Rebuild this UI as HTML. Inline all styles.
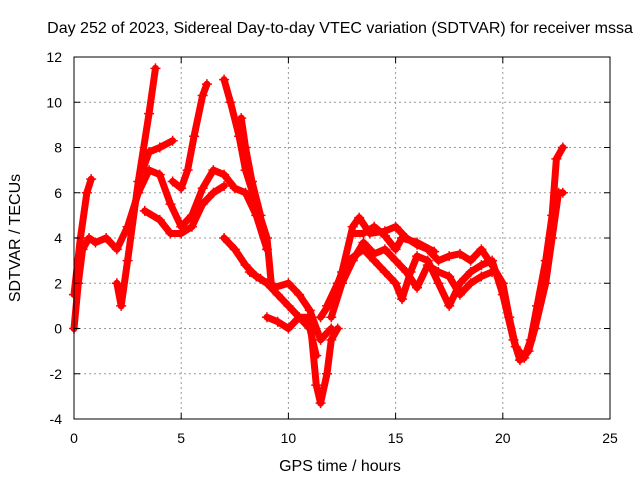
<!DOCTYPE html>
<html><head><meta charset="utf-8"><style>
body{margin:0;background:#fff;}
svg text{font-family:"Liberation Sans",sans-serif;font-size:14px;fill:#000;}
svg text.lbl{font-size:16px;}
</style></head><body>
<svg id="chart" width="640" height="480" xmlns="http://www.w3.org/2000/svg">
<g id="grid"></g>
<g id="series"></g>
<rect x="74" y="57" width="536" height="362" fill="none" stroke="#000" stroke-width="1"/>
<g id="axes"></g>
<text class="lbl" x="340" y="33" text-anchor="middle">Day 252 of 2023, Sidereal Day-to-day VTEC variation (SDTVAR) for receiver mssa</text>
<text class="lbl" x="340" y="471" text-anchor="middle">GPS time / hours</text>
<text class="lbl" transform="translate(20,238) rotate(-90)" text-anchor="middle">SDTVAR / TECUs</text>
</svg>
<script>
const xTicks=[0,5,10,15,20,25];
const yTicks=[-4,-2,0,2,4,6,8,10,12];
const trackA=[[0,0],[0.2,2],[0.4,3.5],[0.7,4],[1,3.8],[1.5,4],[2,3.5],[2.5,4.5],[3,6],[3.5,7],[4,6.8],[4.5,5.5],[5,4.5],[5.5,5],[6,6.2],[6.5,7],[7,6.8],[7.5,6.2],[8,6],[8.5,5],[9,3.5]];
const trackB=[[0,1.5],[0.3,4],[0.6,6],[0.8,6.6]];
const trackC=[[2,2],[2.2,1],[2.5,3],[3,6.5],[3.5,9.5],[3.8,11.5]];
const trackD=[[3.2,7],[3.5,7.8],[4,8],[4.6,8.3]];
const trackE=[[3.3,5.2],[4,4.8],[4.5,4.2],[5,4.2],[5.5,4.5],[6,5.5],[6.5,6],[7,6.3]];
const trackG=[[4.6,6.5],[5,6.2],[5.3,7],[5.6,8.5],[6,10.3],[6.2,10.8]];
const trackH=[[7,11],[7.3,10],[7.7,8.5],[8,7],[8.5,5.5],[9,4],[9.2,2]];
const trackI=[[7.8,9.3],[8,8],[8.3,6.5],[8.7,5]];
const trackJ=[[7,4],[7.5,3.5],[8,2.8],[8.5,2.3],[9,2],[9.5,1.5],[10,1],[10.5,0.5],[11,0],[11.3,-1.2]];
const trackK=[[8.2,2.5],[8.7,2.2],[9.3,1.8],[10,2],[10.5,1.5],[11,0.8],[11.5,-0.5],[12,0]];
const trackL=[[9,0.5],[9.5,0.3],[10,0],[10.5,0.5],[11,0.5],[11.3,-2.5],[11.5,-3.3],[11.8,-2],[12,-0.5],[12.3,0]];
const trackM=[[11.5,0.5],[12,1.2],[12.5,2.5],[13,4.5],[13.3,4.9],[13.8,4.2],[14.5,4.3],[15,4.5],[15.5,4],[16,3.7],[16.5,3.5],[17,3],[17.5,3.2],[18,3.3],[18.5,3],[19,3.5],[19.5,2.8],[20,2],[20.3,0.5],[20.6,-0.8],[21,-1.3],[21.3,-0.5],[21.6,1],[22,3],[22.3,5],[22.5,7.5],[22.8,8]];
const trackN=[[11.8,1],[12.3,2],[12.8,3],[13.5,3.5],[14,3],[14.5,2.5],[15,2],[15.3,1.3],[15.7,2.5],[16,3.2],[16.5,3],[17,2],[17.5,1],[18,2],[18.5,2.5],[19,2.8],[19.5,3],[20,1.5],[20.5,-0.5],[20.8,-1.4],[21.2,-1],[21.5,0],[22,2],[22.3,4],[22.6,6],[22.8,6]];
const trackO=[[12,0.5],[12.5,2],[13,3],[13.5,3.8],[14,3.3],[14.5,3.5],[15,3],[15.5,2.5],[16,1.8],[16.5,2.8],[17,2.5],[17.5,2.3],[18,1.5],[18.5,2],[19,2.3],[19.5,2.5]];
const trackP=[[13,4.2],[13.5,4.2],[14,4.5],[14.5,4.1],[15,3.5],[15.3,4],[16,3.8],[16.8,3.4]];
const tracks=[trackA,trackB,trackC,trackD,trackE,trackG,trackH,trackI,trackJ,trackK,trackL,trackM,trackN,trackO,trackP];
const NS="http://www.w3.org/2000/svg";
const X=v=>74+v*(536/25);
const Y=v=>419-(v+4)*(362/16);
function mk(t,a,p){const e=document.createElementNS(NS,t);for(const k in a)e.setAttribute(k,a[k]);p.appendChild(e);return e;}
const grid=document.getElementById('grid'),axes=document.getElementById('axes'),ser=document.getElementById('series');
xTicks.forEach(t=>{
 if(t>0&&t<25){const l=mk('line',{x1:X(t),x2:X(t),y1:57,y2:419,stroke:'#999','stroke-dasharray':'2,3'},grid);
 }
 mk('line',{x1:X(t),x2:X(t),y1:419,y2:413,stroke:'#000'},axes);
 mk('line',{x1:X(t),x2:X(t),y1:57,y2:63,stroke:'#000'},axes);
 const tx=mk('text',{x:X(t),y:443,'text-anchor':'middle'},axes);tx.textContent=t;
 
});
yTicks.forEach(t=>{
 if(t>-4&&t<12){const l=mk('line',{x1:74,x2:610,y1:Y(t),y2:Y(t),stroke:'#999','stroke-dasharray':'2,3'},grid);
 }
 mk('line',{x1:74,x2:80,y1:Y(t),y2:Y(t),stroke:'#000'},axes);
 mk('line',{x1:610,x2:604,y1:Y(t),y2:Y(t),stroke:'#000'},axes);
 const tx=mk('text',{x:62,y:Y(t)+5,'text-anchor':'end'},axes);tx.textContent=t;
 
});
tracks.forEach(tr=>{
 const pl=mk('polyline',{points:tr.map(p=>X(p[0])+','+Y(p[1])).join(' '),fill:'none',stroke:'#f00','stroke-width':7,'stroke-linejoin':'round','stroke-linecap':'round'},ser);
 
 tr.forEach(p=>{const x=X(p[0]),y=Y(p[1]);
  const m=mk('path',{d:`M${x-5},${y}h10M${x},${y-5}v10`,stroke:'#f00','stroke-width':1.5},ser);
  });
});
</script>
</body></html>
